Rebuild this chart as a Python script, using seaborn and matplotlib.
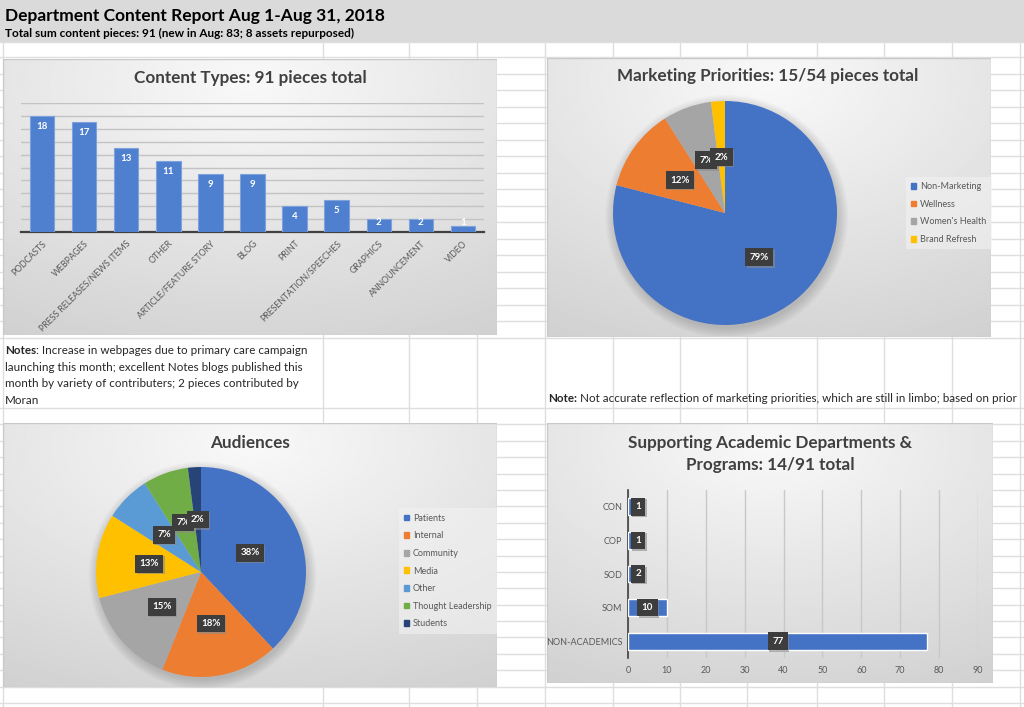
import numpy as np
import pandas as pd
import seaborn as sns
import matplotlib.pyplot as plt
from matplotlib.patches import Rectangle, Patch, Circle
from matplotlib import transforms

sns.set_theme(style="white")
plt.rcParams['font.family'] = ['Lato', 'DejaVu Sans']

# ---- data ----
content_types = ["PODCASTS", "WEBPAGES", "PRESS RELEASES/NEWS ITEMS", "OTHER",
                 "ARTICLE/FEATURE STORY", "BLOG", "PRINT", "PRESENTATION/SPEECHES",
                 "GRAPHICS", "ANNOUNCEMENT", "VIDEO"]
content_counts = [18, 17, 13, 11, 9, 9, 4, 5, 2, 2, 1]

priority_labels = ["Non-Marketing", "Wellness", "Women's Health", "Brand Refresh"]
priority_pct = [79, 12, 7, 2]

audience_labels = ["Patients", "Internal", "Community", "Media", "Other",
                   "Thought Leadership", "Students"]
audience_pct = [38, 18, 15, 13, 7, 7, 2]

dept_labels = ["CON", "COP", "SOD", "SOM", "NON-ACADEMICS"]
dept_counts = [1, 1, 2, 10, 77]

report_title = "Department Content Report Aug 1-Aug 31, 2018"
report_sub = "Total sum content pieces: 91 (new in Aug: 83; 8 assets repurposed)"
notes_first = ": Increase in webpages due to primary care campaign"
notes_rest = ["launching this month; excellent Notes blogs published this",
              "month by variety of contributers; 2 pieces contributed by",
              "Moran"]
note2 = " Not accurate reflection of marketing priorities, which are still in limbo; based on prior"

office = ["#4472C4", "#ED7D31", "#A5A5A5", "#FFC000", "#5B9BD5", "#70AD47", "#264478"]
label_grey = "#595959"
title_grey = "#404040"

W, H = 1024, 707
fig = plt.figure(figsize=(W / 100, H / 100), dpi=100)


def fr(x0, y0, x1, y1):
    # pixel box (top-left origin) -> figure fraction rect
    return [x0 / W, 1 - y1 / H, (x1 - x0) / W, (y1 - y0) / H]


# spreadsheet background
bg = fig.add_axes([0, 0, 1, 1])
bg.set_xlim(0, W)
bg.set_ylim(H, 0)
bg.axis('off')
bg.add_patch(Rectangle((0, 0), W, 42, fc='#dadada', ec='none'))
rows = [42] + list(np.linspace(57, 338, 18)) + list(np.linspace(408, 703, 19))
cols = [3, 323, 409, 477, 545, 613, 680, 747, 817, 884, 952, 1020]
for y in rows:
    bg.axhline(y, color='#dedede', lw=1)
for x in cols:
    bg.plot([x, x], [42, H], color='#dedede', lw=1)

fig.text(5 / W, 1 - 16 / H, report_title, fontsize=12.5, fontweight='bold',
         color='black', va='center')
fig.text(5 / W, 1 - 33 / H, report_sub, fontsize=8.5, fontweight='bold',
         color='black', va='center')


def panel(x0, y0, x1, y1):
    ax = fig.add_axes(fr(x0, y0, x1, y1))
    w, h = x1 - x0, y1 - y0
    xx, yy = np.meshgrid(np.linspace(0, 1, 240), np.linspace(0, 1, 160))
    d = np.hypot(xx - 0.5, yy - 0.08)
    shade = np.clip(0.975 - 0.15 * d, 0.78, 1)
    ax.imshow(shade, cmap='gray', vmin=0, vmax=1, extent=[0, w, h, 0],
              aspect='auto', interpolation='bilinear')
    ax.set_xlim(0, w)
    ax.set_ylim(h, 0)
    ax.axis('off')
    ax.add_patch(Rectangle((0, 0), w, h, fill=False, ec='#c9c9c9', lw=1))
    return ax


def dark_label(ax, x, y, s, size=7):
    tr = transforms.offset_copy(ax.transData, fig=fig, x=1.5, y=-1.5, units='dots')
    ax.text(x, y, s, transform=tr, ha='center', va='center', fontsize=size,
            fontweight='bold', color='#8a8a8a', zorder=6,
            bbox=dict(boxstyle='square,pad=0.45', fc='#8a8a8a', ec='none', alpha=0.6))
    ax.text(x, y, s, ha='center', va='center', fontsize=size, fontweight='bold',
            color='white', zorder=7,
            bbox=dict(boxstyle='square,pad=0.45', fc='#3d3d3d', ec='none'))


def pie_panel(cx, cy, r, vals, colors, legend_labels, lx, ly):
    ax = fig.add_axes(fr(cx - 1.1 * r, cy - 1.1 * r, cx + 1.1 * r, cy + 1.1 * r))
    ax.set_facecolor('none')
    for k in range(8):
        ax.add_patch(Circle((0.015, -0.03), 1 + 0.012 * k, fc='black', ec='none',
                            alpha=0.02, zorder=0))
    ax.pie(vals, colors=colors, startangle=90, counterclock=False,
           wedgeprops=dict(edgecolor='none', zorder=2))
    total = sum(vals)
    start = 90.0
    for v in vals:
        mid = np.deg2rad(start - v / total * 180)
        dark_label(ax, 0.5 * np.cos(mid), 0.5 * np.sin(mid), f"{v / total * 100:.0f}%")
        start -= v / total * 360
    ax.set_xlim(-1.1, 1.1)
    ax.set_ylim(-1.1, 1.1)
    handles = [Patch(color=c, label=l) for c, l in zip(colors, legend_labels)]
    leg = ax.legend(handles=handles, loc='center left',
                    bbox_to_anchor=(lx / W, 1 - ly / H), bbox_transform=fig.transFigure,
                    fontsize=6.5, labelcolor=label_grey, handlelength=0.6,
                    handleheight=0.6, handletextpad=0.4, labelspacing=0.95,
                    frameon=True, fancybox=False, borderpad=0.6)
    leg.get_frame().set_facecolor('#f2f2f2')
    leg.get_frame().set_edgecolor('none')
    leg.get_frame().set_alpha(0.6)
    return ax


# ---- panel 1: content types ----
panel(3, 59, 497, 335)
fig.text(250 / W, 1 - 78 / H, "Content Types: 91 pieces total", fontsize=12.3,
         fontweight='bold', color=title_grey, ha='center', va='center')
ax1 = fig.add_axes(fr(21, 103, 484, 232))
ax1.set_facecolor('none')
df1 = pd.DataFrame({"type": content_types, "count": content_counts})
sns.barplot(data=df1, x="type", y="count", color="#4f7fcf", saturation=1,
            width=0.58, edgecolor="#7ea2de", linewidth=0.8, ax=ax1, zorder=3)
ax1.set_ylim(0, 20)
ax1.set_xlim(-0.5, len(content_types) - 0.5)
ax1.set_yticks(range(0, 21, 2))
ax1.yaxis.grid(True, color='#c3c3c3', lw=1)
ax1.set_axisbelow(True)
ax1.set_yticklabels([])
ax1.set_xlabel('')
ax1.set_ylabel('')
ax1.set_xticks(range(len(content_types)))
ax1.set_xticklabels(content_types, rotation=45, ha='right', rotation_mode='anchor',
                    fontsize=6.3, color=label_grey)
ax1.tick_params(axis='both', length=0, pad=5)
for s in ['top', 'right', 'left']:
    ax1.spines[s].set_visible(False)
ax1.spines['bottom'].set_color('#404040')
ax1.spines['bottom'].set_linewidth(1.6)
for i, v in enumerate(content_counts):
    ax1.text(i, max(v - 1.6, 1.55), str(v), ha='center', va='center', fontsize=7,
             fontweight='bold', color='white', zorder=5)

# ---- panel 2: marketing priorities ----
panel(547, 58, 991, 337)
fig.text(768 / W, 1 - 76 / H, "Marketing Priorities: 15/54 pieces total", fontsize=12.3,
         fontweight='bold', color=title_grey, ha='center', va='center')
pie_panel(725, 213, 112, priority_pct, office[:4], priority_labels, 901, 213)

# ---- notes ----
t = fig.text(5 / W, 1 - 350 / H, "Notes", fontsize=8.4, fontweight='bold', va='center')
bg.annotate(notes_first, xy=(1, 0), xycoords=t, fontsize=8.4, va='bottom')
for k, line in enumerate(notes_rest):
    fig.text(5 / W, 1 - (367 + 16.7 * k) / H, line, fontsize=8.4, va='center')
t2 = fig.text(548 / W, 1 - 399 / H, "Note:", fontsize=8.4, fontweight='bold', va='center')
bg.annotate(note2, xy=(1, 0), xycoords=t2, fontsize=8.4, va='bottom', annotation_clip=False)

# ---- panel 3: audiences ----
panel(3, 423, 497, 687)
fig.text(250 / W, 1 - 443 / H, "Audiences", fontsize=12.3, fontweight='bold',
         color=title_grey, ha='center', va='center')
pie_panel(201, 572, 105, audience_pct, office, audience_labels, 394, 571)

# ---- panel 4: academic departments ----
panel(547, 423, 993, 683)
fig.text(770 / W, 1 - 443 / H, "Supporting Academic Departments &", fontsize=12.3,
         fontweight='bold', color=title_grey, ha='center', va='center')
fig.text(770 / W, 1 - 465 / H, "Programs: 14/91 total", fontsize=12.3,
         fontweight='bold', color=title_grey, ha='center', va='center')
ax4 = fig.add_axes(fr(628, 490, 978, 658))
ax4.set_facecolor('none')
df4 = pd.DataFrame({"dept": dept_labels, "count": dept_counts})
sns.barplot(data=df4, y="dept", x="count", orient='h', color="#4472C4", saturation=1,
            width=0.5, ax=ax4, zorder=3)
ax4.set_xlim(0, 90)
ax4.set_ylim(len(dept_labels) - 0.5, -0.5)
ax4.set_xticks(range(0, 91, 10))
ax4.xaxis.grid(True, color='#c8c8c8', lw=1)
ax4.set_axisbelow(True)
ax4.set_xlabel('')
ax4.set_ylabel('')
ax4.tick_params(axis='x', length=0, pad=6, labelsize=6.5, labelcolor=label_grey)
ax4.tick_params(axis='y', which='major', length=0, pad=4, labelsize=6.5,
                labelcolor=label_grey)
ax4.set_yticks(np.arange(-0.5, len(dept_labels), 1), minor=True)
ax4.tick_params(axis='y', which='minor', length=4, width=1, color='#404040',
                direction='out')
for s in ['top', 'right', 'bottom']:
    ax4.spines[s].set_visible(False)
ax4.spines['left'].set_color('#404040')
ax4.spines['left'].set_linewidth(1.2)
for i, v in enumerate(dept_counts):
    dark_label(ax4, max(v / 2, 2.6), i, str(v))

fig.savefig("out.png", dpi=100)
